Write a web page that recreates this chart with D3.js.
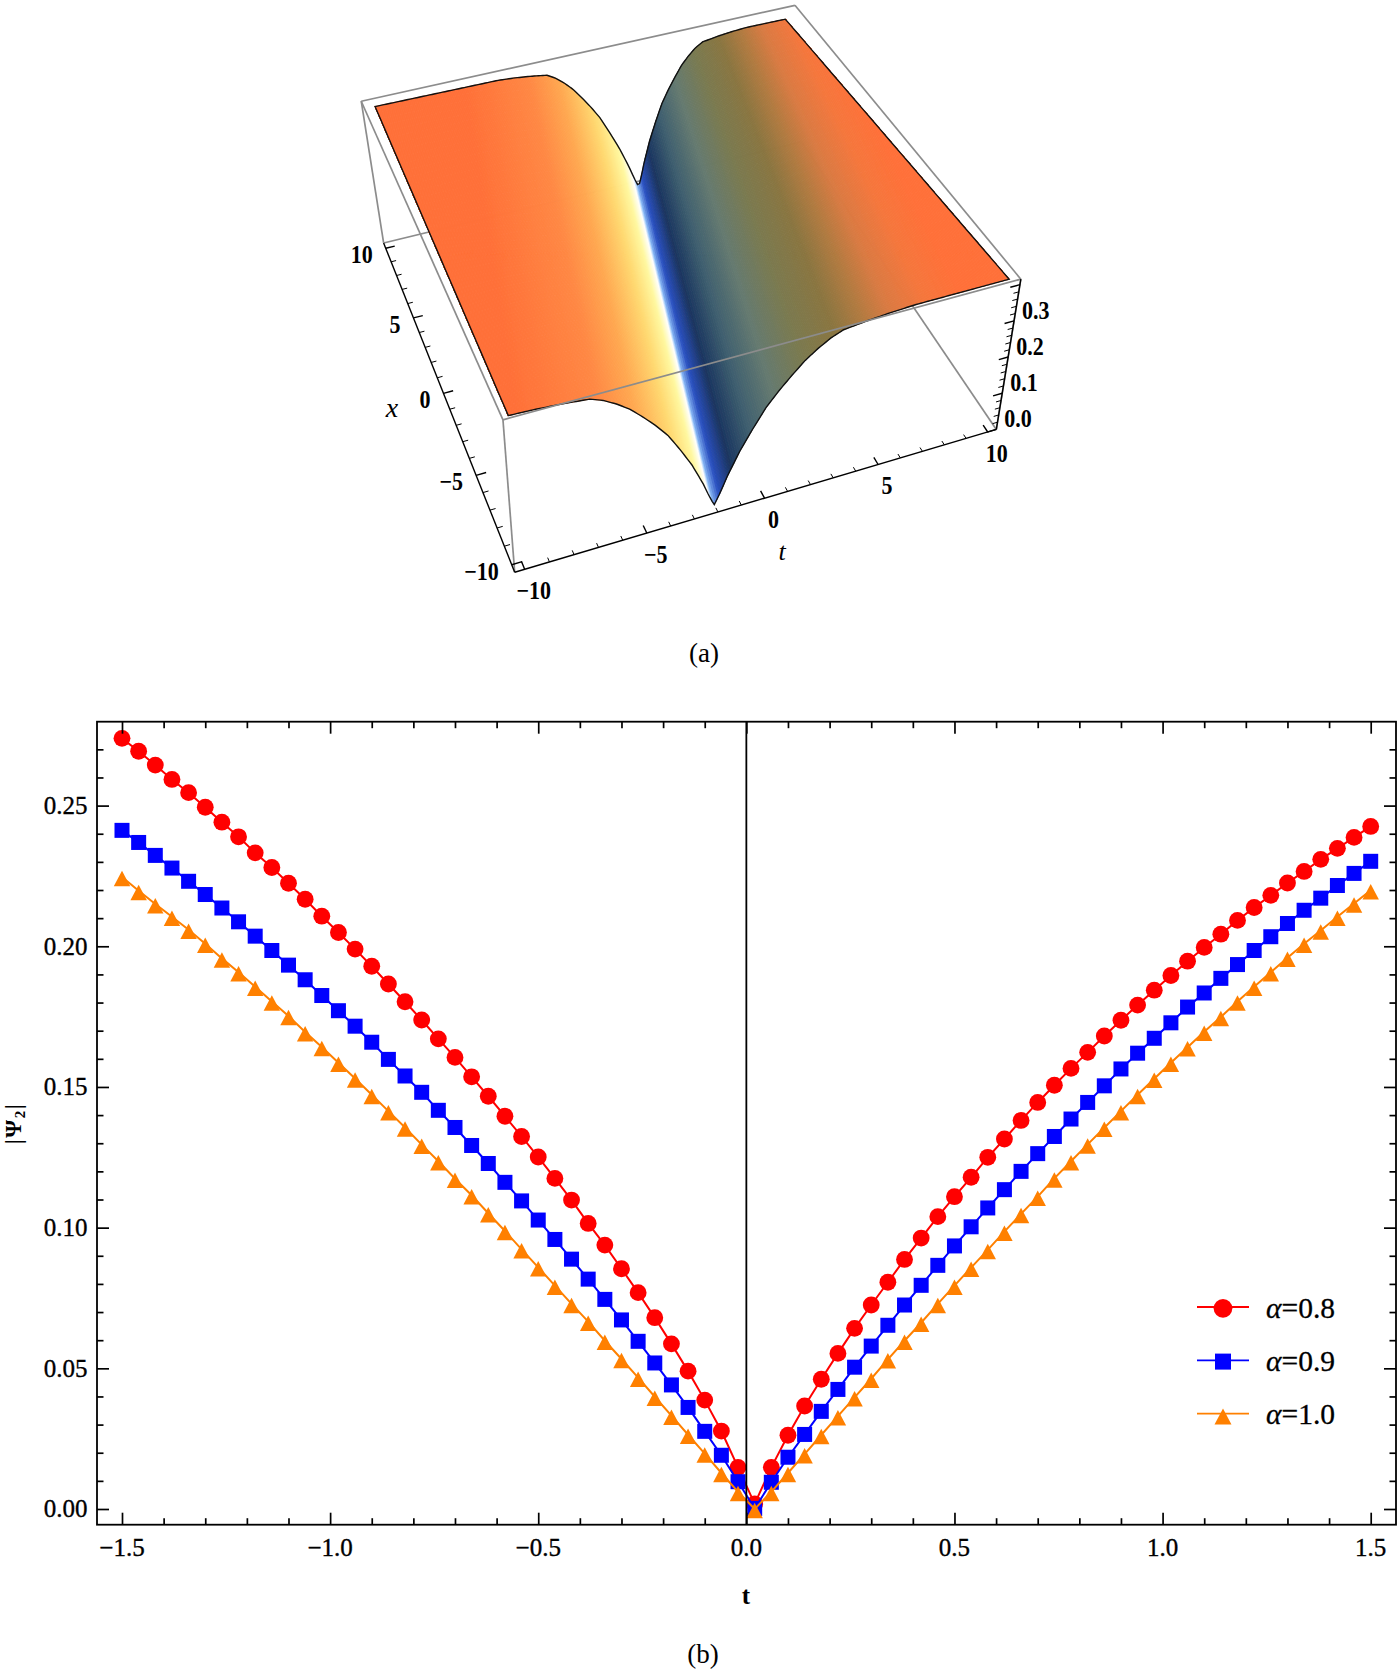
<!DOCTYPE html>
<html><head><meta charset="utf-8">
<script src="https://cdnjs.cloudflare.com/ajax/libs/d3/7.8.5/d3.min.js"></script>
<style>
html,body{margin:0;padding:0;background:#fff;overflow:hidden}
svg{display:block}
text{font-family:"Liberation Serif",serif;fill:#000}
</style></head><body>
<svg id="c" width="1397" height="1671"><defs><filter id="soft" x="-5%" y="-5%" width="110%" height="110%"><feGaussianBlur stdDeviation="0.7"/></filter></defs></svg>
<script>
// ---------- panel (b) data ----------
const tGrid = d3.range(76).map(k => -1.5 + 0.04 * k);
const alpha08 = [.2739,.2693,.2644,.2593,.2546,.2494,.2441,.2389,.2332,.2280,.2224,.2167,.2107,.2049,.1990,.1929,.1866,.1803,.1738,.1671,.1605,.1536,.1467,.1396,.1324,.1251,.1175,.1098,.1015,.0938,.0854,.0769,.0680,.0587,.0490,.0387,.0277,.0148,.0018,.0148,.0262,.0366,.0461,.0553,.0642,.0725,.0806,.0887,.0963,.1039,.1110,.1179,.1250,.1315,.1381,.1445,.1506,.1566,.1623,.1681,.1737,.1791,.1844,.1896,.1947,.1996,.2043,.2092,.2138,.2181,.2225,.2266,.2309,.2348,.2387,.2426];
const alpha09 = [.2412,.2369,.2323,.2278,.2231,.2184,.2136,.2087,.2036,.1985,.1933,.1881,.1825,.1771,.1716,.1659,.1598,.1539,.1481,.1417,.1356,.1292,.1228,.1161,.1095,.1027,.0958,.0888,.0817,.0745,.0672,.0596,.0519,.0441,.0361,.0276,.0191,.0097,.0002,.0095,.0184,.0265,.0347,.0425,.0504,.0579,.0653,.0725,.0795,.0866,.0935,.1003,.1070,.1135,.1200,.1263,.1324,.1386,.1445,.1504,.1564,.1620,.1673,.1728,.1784,.1834,.1886,.1935,.1985,.2034,.2081,.2128,.2171,.2216,.2259,.2302];
const alpha10 = [.2246,.2197,.2150,.2105,.2059,.2009,.1957,.1908,.1856,.1804,.1752,.1695,.1642,.1586,.1530,.1472,.1414,.1356,.1295,.1236,.1174,.1115,.1051,.0988,.0923,.0859,.0794,.0729,.0666,.0598,.0533,.0467,.0399,.0332,.0264,.0197,.0128,.0061,.0000,.0061,.0128,.0195,.0263,.0330,.0397,.0463,.0532,.0598,.0662,.0729,.0794,.0858,.0921,.0986,.1049,.1110,.1175,.1236,.1296,.1355,.1414,.1472,.1529,.1586,.1641,.1696,.1749,.1804,.1856,.1908,.1959,.2009,.2056,.2105,.2152,.2199];
const seriesNames = ["α=0.8","α=0.9","α=1.0"];
const seriesColors = ["#ff0000","#0000ff","#ff8000"];
const xMajor = [-1.5,-1,-.5,0,.5,1,1.5];
const xMajorLabels = ["−1.5","−1.0","−0.5","0.0","0.5","1.0","1.5"];
const yMajor = [0,.05,.1,.15,.2,.25];
const yMajorLabels = ["0.00","0.05","0.10","0.15","0.20","0.25"];

// ---------- panel (a) data ----------
// wave coordinate, height of the surface, colour of the surface
const xiStops = [0,.25,.5,1,1.5,2,2.5,3,3.5,4,4.5,5,6,7,8,16];
const heightStops = [0,.03,.065,.125,.175,.222,.258,.29,.32,.343,.362,.375,.382,.387,.39,.39];
const colorXi = [-13,-7.7,-4.7,-3.3,-1.85,-.8,-.22,-.05,.2,.65,1.4,2.3,3.4,4.7,5.8,6.9,8.4,9.9,13];
const colorVal = ["#ff7038","#ff7038","#ff8844","#ffa850","#ffd870","#fff8a0","#ffffff","#90c0f8","#2a4fc0","#1a3560","#40606f","#657a70","#7a7a50","#8a7540","#b07a40","#d97a42","#f5763c","#ff7038","#ff7038"];
const waveSlope = 0.1925, waveShift = -0.08, backWidening = 0.3;
const tTicks3d = [-10,-5,0,5,10];
const xTicks3d = [-10,-5,0,5,10];
const zTicks3d = [0,.1,.2,.3];
const tLabels3d = ["−10","−5","0","5","10"];
const xLabels3d = ["−10","−5","0","5","10"];
const zLabels3d = ["0.0","0.1","0.2","0.3"];
const S = 1397/1311;
// corners on the page: [t low,x low],[t high,x low],[t high,x high],[t low,x high]
const baseQuad = [[483,537],[935,403],[752,133],[360,228]].map(p=>[p[0]*S,p[1]*S]);
const topQuad  = [[472,394],[958,262],[746,5],[339,95]].map(p=>[p[0]*S,p[1]*S]);
const surfaceTopQuad = [[477,390],[947,262],[737,18],[352,100]].map(p=>[p[0]*S,p[1]*S]);
const zTop = 0.415, plateau = 0.39;

const svg = d3.select("#c");

// ---------- panel (a) ----------
function homography(q){
  const [x0,y0]=q[0],[x1,y1]=q[1],[x2,y2]=q[2],[x3,y3]=q[3];
  const dx1=x1-x2,dx2=x3-x2,dy1=y1-y2,dy2=y3-y2,sx=x0-x1+x2-x3,sy=y0-y1+y2-y3;
  const den=dx1*dy2-dx2*dy1,g=(sx*dy2-dx2*sy)/den,h=(dx1*sy-sx*dy1)/den;
  const a=x1-x0+g*x1,b=x3-x0+h*x3,d=y1-y0+g*y1,e=y3-y0+h*y3;
  return (u,v)=>{const w=g*u+h*v+1;return [(a*u+b*v+x0)/w,(d*u+e*v+y0)/w];};
}
const hBase=homography(baseQuad),hTop=homography(topQuad);
const uScale=d3.scaleLinear([-10.4,10.4],[0,1]);
const vScale=d3.scaleLinear([-10.4,10.4],[0,1]);
const zFrac=d3.scaleLinear([0,zTop],[0,1]);
const P=(t,x,z)=>{const u=uScale(t),v=vScale(x),f=zFrac(z);
  const a=hBase(u,v),b=hTop(u,v);return [a[0]+(b[0]-a[0])*f,a[1]+(b[1]-a[1])*f];};
const sBase=homography([P(-10,-10,0),P(10,-10,0),P(10,10,0),P(-10,10,0)]);
const sTop=homography(surfaceTopQuad);
const unit=d3.scaleLinear([-10,10],[0,1]);
const profile=d3.scaleLinear(xiStops,heightStops).clamp(true);
const colorOf=d3.scaleLinear(colorXi,colorVal).clamp(true);
const surf=(t,x)=>{
  const xi=t-waveSlope*x-waveShift;
  const f=profile(Math.abs(xi)*(1+backWidening*unit(x)))/plateau;
  const a=sBase(unit(t),unit(x)),b=sTop(unit(t),unit(x));
  return [a[0]+(b[0]-a[0])*f,a[1]+(b[1]-a[1])*f];
};
const line=d3.line();
const box=svg.append("g");
const gray={stroke:"#8c8c8c","stroke-width":1.7,fill:"none"};
function seg(g,a,b,st){const p=g.append("path").attr("d",line([a,b]));for(const k in st)p.attr(k,st[k]);return p;}
// hidden and back edges of the box
seg(box,P(-10.4,10.4,0),P(10.4,10.4,0),gray);
seg(box,P(10.4,10.4,0),P(10.4,-10.4,0),gray);
seg(box,P(-10.4,10.4,0),P(-10.4,10.4,zTop),gray);
seg(box,P(-10.4,-10.4,0),P(-10.4,-10.4,zTop),gray);
seg(box,P(-10.4,10.4,zTop),P(10.4,10.4,zTop),gray);
seg(box,P(10.4,10.4,zTop),P(10.4,-10.4,zTop),gray);
seg(box,P(-10.4,10.4,zTop),P(-10.4,-10.4,zTop),gray);
// surface strips of constant wave coordinate
const xSteps=d3.range(-10,10.01,.5);
const xiStep=.06;
const xiEdges=d3.range(-12.2,12.2,xiStep);
const clampT=d3.scaleLinear([-10,10],[-10,10]).clamp(true);
svg.append("g").attr("filter","url(#soft)").selectAll("path").data(xiEdges).join("path")
 .attr("d",xi=>{
   const a=xSteps.map(x=>surf(clampT(xi+waveShift+waveSlope*x),x));
   const b=xSteps.slice().reverse().map(x=>surf(clampT(xi+xiStep+waveShift+waveSlope*x),x));
   return line(a.concat(b))+"Z";})
 .attr("fill",xi=>colorOf(xi+xiStep/2)).attr("stroke",xi=>colorOf(xi+xiStep/2)).attr("stroke-width",1);
// surface outline
const tSteps=d3.range(-10,10.01,.1);
const edge=tSteps.map(t=>surf(t,-10)).concat(xSteps.map(x=>surf(10,x)),tSteps.slice().reverse().map(t=>surf(t,10)),xSteps.slice().reverse().map(x=>surf(-10,x)));
svg.append("path").attr("d",line(edge)+"Z").attr("fill","none").attr("stroke","#111").attr("stroke-width",1.4);
// front edges over the surface
seg(svg,P(-10.4,-10.4,zTop),P(10.4,-10.4,zTop),gray);
seg(svg,P(10.4,-10.4,zTop),P(10.4,-10.4,0),gray);
// axes with ticks
const ax=svg.append("g").attr("stroke","#000");
const axisSt={stroke:"#000","stroke-width":1.4,fill:"none"};
seg(ax,P(-10.4,-10.4,0),P(10.4,-10.4,0),axisSt);
seg(ax,P(-10.4,-10.4,0),P(-10.4,10.4,0),axisSt);
seg(ax,P(10.4,-10.4,0),P(10.4,-10.4,zTop),axisSt);
d3.range(-10,10.01,1).forEach(v=>{
  const major=v%5===0, s=major?1:.55;
  seg(ax,P(v,-10.4,0),P(v,-10.4+.42*s,0),{stroke:"#000","stroke-width":major?1.4:1,fill:"none"});
  seg(ax,P(-10.4,v,0),P(-10.4+.42*s,v,0),{stroke:"#000","stroke-width":major?1.4:1,fill:"none"});
});
d3.range(0,.401,.02).forEach((z,i)=>{
  const major=i%5===0,s=major?1:.55;
  seg(ax,P(10.4,-10.4,z),P(10.4-.42*s,-10.4,z),{stroke:"#000","stroke-width":major?1.4:1,fill:"none"});
});
// labels
const lab3d=svg.append("g").attr("font-size",22).attr("font-weight","bold");
lab3d.selectAll(".tl").data(tTicks3d).join("text").attr("class","tl")
 .attr("transform",(v,i)=>{const p=P(v,-10.4,0);return `translate(${p[0]+9},${p[1]+30})scale(1,1.15)`;})
 .attr("text-anchor","middle").text((v,i)=>tLabels3d[i]);
lab3d.selectAll(".xl").data(xTicks3d).join("text").attr("class","xl")
 .attr("transform",(v,i)=>{const p=P(-10.4,v,0);return `translate(${p[0]-13},${p[1]+15})scale(1,1.15)`;})
 .attr("text-anchor","end").text((v,i)=>xLabels3d[i]);
lab3d.selectAll(".zl").data(zTicks3d).join("text").attr("class","zl")
 .attr("transform",(v,i)=>{const p=P(10.4,-10.4,v);return `translate(${p[0]+8},${p[1]-2})scale(1,1.15)`;})
 .attr("text-anchor","start").text((v,i)=>zLabels3d[i]);
svg.append("text").attr("x",392).attr("y",417).attr("font-size",28).attr("font-style","italic").attr("text-anchor","middle").text("x");
svg.append("text").attr("x",782).attr("y",560).attr("font-size",26).attr("font-style","italic").attr("text-anchor","middle").text("t");
svg.append("text").attr("x",704).attr("y",662).attr("font-size",27).attr("text-anchor","middle").text("(a)");

// ---------- panel (b) ----------
const X0=97,X1=1396,Y0=721.7,Y1=1524.7;
const xS=d3.scaleLinear([-1.5,1.5],[122,1370.7]);
const yS=d3.scaleLinear([0,.25],[1509,805.6]);
const g=svg.append("g");
const series=[alpha08,alpha09,alpha10];
const lineGen=d3.line().x((d,i)=>xS(tGrid[i])).y(d=>yS(d));
const tri=h=>`M0,${-h*.4}L${h*.53},${h*.6}L${-h*.53},${h*.6}Z`;
function marker(sel,idx,sz){
  if(idx===0)sel.append("circle").attr("r",sz*.52).attr("fill",seriesColors[0]);
  if(idx===1)sel.append("rect").attr("x",-sz/2).attr("y",-sz/2).attr("width",sz).attr("height",sz).attr("fill",seriesColors[1]);
  if(idx===2)sel.append("path").attr("d",tri(sz)).attr("fill",seriesColors[2]);
}
series.forEach((vals,idx)=>{
  const s=g.append("g");
  s.append("path").attr("d",lineGen(vals)).attr("fill","none").attr("stroke",seriesColors[idx]).attr("stroke-width",2);
  vals.forEach((v,i)=>{
    const m=s.append("g").attr("transform",`translate(${xS(tGrid[i])},${yS(v)})`);
    marker(m,idx,idx===0?16.2:idx===1?15:15.5);
  });
});
// zero line and frame
g.append("line").attr("x1",xS(0)).attr("x2",xS(0)).attr("y1",Y0).attr("y2",Y1).attr("stroke","#000").attr("stroke-width",1.8);
g.append("rect").attr("x",X0).attr("y",Y0).attr("width",X1-X0).attr("height",Y1-Y0).attr("fill","none").attr("stroke","#000").attr("stroke-width",1.8);
// ticks
const xMinor=d3.range(-15,15.5).map(k=>k/10).filter(v=>!xMajor.some(m=>Math.abs(m-v)<1e-6));
const yMinor=d3.range(0,28).map(k=>k/100).filter(v=>!yMajor.some(m=>Math.abs(m-v)<1e-6));
function ticks(axisFn,scale,vals,size,tx,ty){
  const a=g.append("g").attr("transform",`translate(${tx},${ty})`)
    .call(axisFn(scale).tickValues(vals).tickSize(size).tickFormat(""));
  a.select(".domain").remove();
  a.selectAll("line").attr("stroke","#000").attr("stroke-width",1.7);
  return a;
}
ticks(d3.axisBottom,xS,xMajor,-12,0,Y1); ticks(d3.axisBottom,xS,xMinor,-6.5,0,Y1);
ticks(d3.axisTop,xS,xMajor,-12,0,Y0);    ticks(d3.axisTop,xS,xMinor,-6.5,0,Y0);
ticks(d3.axisLeft,yS,yMajor,-12,X0,0);   ticks(d3.axisLeft,yS,yMinor,-6.5,X0,0);
ticks(d3.axisRight,yS,yMajor,-12,X1,0);  ticks(d3.axisRight,yS,yMinor,-6.5,X1,0);
// tick labels
const lab=g.append("g").attr("font-size",25).attr("stroke","#000").attr("stroke-width",.35);
lab.selectAll(".xt").data(xMajor).join("text").attr("class","xt").attr("x",d=>xS(d)).attr("y",1556).attr("text-anchor","middle").text((d,i)=>xMajorLabels[i]);
lab.selectAll(".yt").data(yMajor).join("text").attr("class","yt").attr("x",87.5).attr("y",d=>yS(d)+8.3).attr("text-anchor","end").text((d,i)=>yMajorLabels[i]);
g.append("text").attr("x",746).attr("y",1604).attr("font-size",25).attr("font-weight","bold").attr("text-anchor","middle").text("t");
const yl=g.append("text").attr("transform","translate(21,1123.5)rotate(-90)").attr("font-size",23).attr("font-weight","bold").attr("text-anchor","middle").attr("letter-spacing",1.5);
yl.append("tspan").text("|Ψ");
yl.append("tspan").attr("font-size",15).attr("dy",4).text("2");
yl.append("tspan").attr("dy",-4).text("|");
g.append("text").attr("x",703).attr("y",1663).attr("font-size",27).attr("text-anchor","middle").text("(b)");
// legend
const legendY=[1307,1360.3,1413.7];
seriesNames.forEach((n,i)=>{
  g.append("line").attr("x1",1197).attr("x2",1249).attr("y1",legendY[i]).attr("y2",legendY[i]).attr("stroke",seriesColors[i]).attr("stroke-width",1.8);
  const m=g.append("g").attr("transform",`translate(1223,${legendY[i]+1.3})`);
  marker(m,i,i===0?18:16);
  const t=g.append("text").attr("x",1266).attr("y",legendY[i]+10.7).attr("font-size",29.5).attr("stroke","#000").attr("stroke-width",.3);
  t.append("tspan").attr("font-style","italic").text(n[0]);
  t.append("tspan").text(n.slice(1));
});
</script></body></html>
